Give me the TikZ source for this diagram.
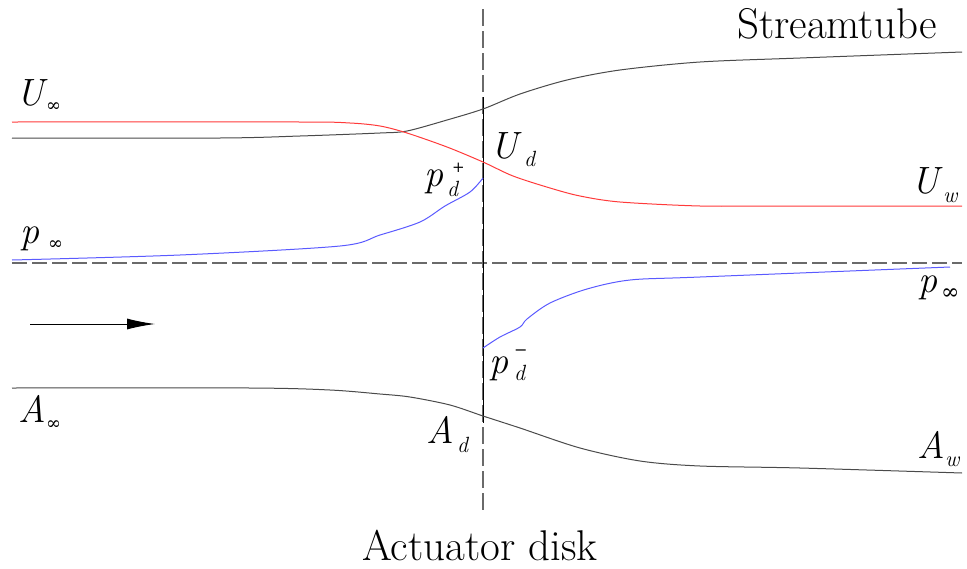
\documentclass[tikz,border=0pt]{standalone}
\usepackage{fontspec}
\newfontfamily\symf{DejaVu Serif}
\usetikzlibrary{arrows.meta}
\definecolor{tubecol}{HTML}{4A4A4A}
\definecolor{velcol}{HTML}{FF3A3A}
\definecolor{prescol}{HTML}{5A5AFF}
\definecolor{dashcol}{HTML}{6A6A6A}
\tikzset{
  tube/.style={draw=tubecol, line width=1pt},
  vel/.style={draw=velcol, line width=1pt},
  pres/.style={draw=prescol, line width=1pt},
  refline/.style={draw=dashcol, line width=1.2pt, dash pattern=on 15pt off 5pt},
  diskline/.style={draw=black, line width=0.9pt},
  mainlab/.style={anchor=base west, inner sep=0pt, font=\fontsize{38}{38}\selectfont\itshape},
  sublab/.style={anchor=base west, inner sep=0pt, font=\fontsize{22}{22}\selectfont\itshape},
  inflab/.style={anchor=base west, inner sep=0pt, font=\fontsize{18}{18}\selectfont\symf},
  titlelab/.style={anchor=base west, inner sep=0pt, font=\fontsize{43}{43}\selectfont},
}
\begin{document}
\begin{tikzpicture}[x=1pt,y=-1pt]
\useasboundingbox (0,0) rectangle (967,568);
% reference lines
\coordinate (hL) at (12,263);
\coordinate (hR) at (962,263);
\draw[refline] (hL) -- (hR);
\coordinate (vT) at (483,9);
\coordinate (vB) at (483,513);
\draw[draw=dashcol, line width=1.2pt, dash pattern=on 17pt off 5pt] (vT) -- (vB);
\coordinate (dT) at (483,97);
\coordinate (dB) at (483,423);
\draw[diskline] (dT) -- (dB);
% streamtube top
\draw[tube] plot[smooth, tension=0.5] coordinates {(12,138) (220,138) (300,136) (380,133) (407,131) (447,120) (483,109) (520,94) (567,80) (620,70) (700,62) (800,58) (962,52)};
% streamtube bottom
\draw[tube] plot[smooth, tension=0.5] coordinates {(12,388) (250,388) (330,390) (380,394) (410,397) (450,405) (483,416) (520,428) (580,448) (640,461) (700,466) (800,468) (962,473)};
% velocity
\draw[vel] plot[smooth, tension=0.5] coordinates {(12,122) (300,122) (350,123) (380,126) (407,133) (447,147) (483,162) (513,176) (550,188) (580,196) (620,202) (700,206) (780,206) (962,206)};
% pressure upstream
\draw[pres] plot[smooth, tension=0.5] coordinates {(12,260) (180,255) (340,246) (380,235) (420,222) (445,206) (470,192) (483,178)};
% pressure downstream
\draw[pres] plot[smooth, tension=0.5] coordinates {(483,348) (500,337) (520,327) (527,319) (550,303) (587,289) (630,280) (700,277) (950,267)};
% flow arrow
\coordinate (arrS) at (30,324);
\coordinate (arrE) at (155,324);
\draw[draw=black, line width=1pt, -{Latex[length=28pt,width=11pt]}] (arrS) -- (arrE);
% titles
\node[titlelab] (stream) at (737,38) {Streamtube};
\node[titlelab] (actdisk) at (362,560) {Actuator disk};
% labels
\node[mainlab] (Uinf) at (16,105) {U};
\node[inflab] (Uinfs) at (46,111) {∞};
\node[mainlab] (pinfL) at (20,243) {p};
\node[inflab] (pinfLs) at (48,249) {∞};
\node[mainlab] (Ud) at (490,158) {U};
\node[sublab] (Uds) at (524,166) {d};
\node[mainlab] (pdp) at (424,186) {p};
\node[sublab] (pdps) at (447,196) {d};
\node[inflab, font=\fontsize{15}{15}\selectfont\symf] (pdpp) at (452,172) {+};
\node[mainlab] (Uw) at (911,193) {U};
\node[sublab] (Uws) at (943,202) {w};
\node[mainlab] (pinfR) at (918,292) {p};
\node[inflab, font=\fontsize{22}{22}\selectfont\symf] (pinfRs) at (941,299) {∞};
\node[mainlab] (pdm) at (489,373) {p};
\node[sublab] (pdms) at (514,380) {d};
\node[inflab, font=\fontsize{16}{16}\selectfont\symf] (pdmm) at (514,355) {−};
\node[mainlab] (Ainf) at (18,422) {A};
\node[inflab] (Ainfs) at (46,429) {∞};
\node[mainlab] (Ad) at (426,443) {A};
\node[sublab] (Ads) at (457,452) {d};
\node[mainlab] (Aw) at (917,458) {A};
\node[sublab] (Aws) at (945,466) {w};
\end{tikzpicture}
\end{document}
